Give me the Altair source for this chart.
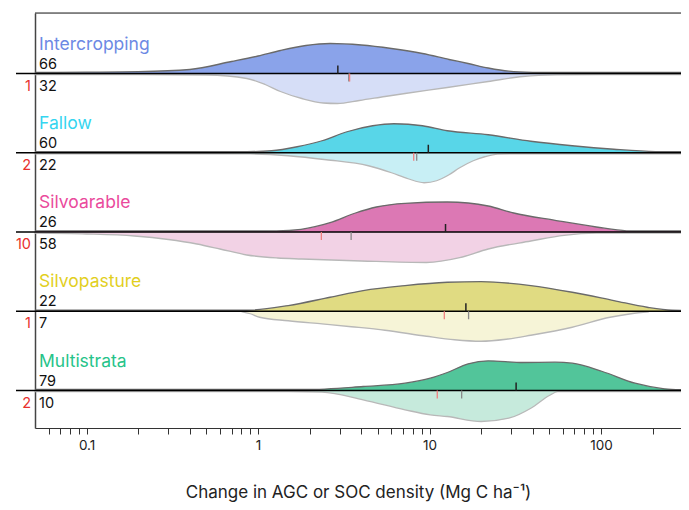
import altair as alt
import pandas as pd

# ---------------- data ----------------
categories = ["Intercropping", "Fallow", "Silvoarable", "Silvopasture", "Multistrata"]
label_colors = ["#6d89e4", "#35d5f0", "#ea4a9c", "#e2cf1e", "#26c389"]
agc_fill = ["#8aa3ea", "#58d6e8", "#dc78b4", "#e0db82", "#52c59a"]
soc_fill = ["#d6def7", "#c8eff5", "#f2d2e5", "#f6f4d7", "#c6eadc"]

n_agc = [66, 60, 26, 22, 79]
n_soc = [32, 22, 58, 7, 10]
n_other = [1, 2, 10, 1, 2]

median_agc = [2.92, 9.84, 12.4, 16.3, 32.0]
median_soc = [3.38, 8.42, 3.49, 16.9, 15.4]
median_soc_alt = [3.42, 8.09, 2.34, 12.2, 11.1]

# density profiles: x positions (Mg C/ha) and relative density (peak ~ 30)
agc_x = [
    [0.05, 0.1, 0.2, 0.4, 0.7, 1.0, 1.35, 1.9, 2.63, 4, 6, 9.1, 13, 16.8, 22, 29, 40, 54, 300],
    [0.05, 0.5, 0.86, 1.2, 1.69, 2.36, 3.3, 4.66, 6.2, 9.1, 12.7, 22, 39, 68, 119, 208, 300],
    [0.05, 1.0, 1.28, 1.78, 2.63, 3.7, 4.9, 7.2, 12.7, 16.8, 22, 31, 54, 94, 141, 166, 300],
    [0.05, 0.86, 1.5, 2.63, 4.1, 7.2, 12.7, 20, 39, 68, 119, 186, 260, 300],
    [0.05, 1.89, 4.1, 7.2, 10.1, 12.7, 16.8, 22, 35, 54, 68, 102, 158, 235, 300],
]
agc_h = [
    [1.0, 1.3, 1.8, 4, 12, 17.5, 23, 28, 30, 28.5, 25, 20, 14, 10, 5.5, 2.3, 1.2, 1.0, 1.0],
    [1.0, 1.0, 1.1, 2, 6, 12, 21, 27, 29, 27, 22, 18, 11.5, 7, 3.5, 1.2, 1.0],
    [1.0, 1.0, 1.1, 2.7, 9.3, 19, 25, 28.7, 30, 29, 26, 19, 11.7, 5, 1.2, 1.0, 1.0],
    [1.0, 1.0, 5.7, 14, 20.7, 25.7, 29, 29.7, 25.7, 19, 10.7, 4, 1.0, 0.8],
    [1.0, 1.0, 4, 7.3, 12.3, 18, 26.7, 29.7, 28, 28.3, 27.3, 19, 7.3, 1.7, 0.8],
]
soc_x = [
    [0.05, 0.2, 0.5, 0.86, 1.1, 1.35, 1.8, 2.4, 2.9, 3.9, 5.5, 7.2, 12.7, 22, 35, 55, 100, 300],
    [0.05, 0.6, 0.9, 1.5, 2.5, 4.4, 6, 7.5, 9.3, 11, 13, 15, 18, 21, 25, 30, 300],
    [0.05, 0.1, 0.19, 0.3, 0.44, 0.6, 0.86, 1.3, 1.8, 4, 9.6, 15, 22, 39, 61, 94, 300],
    [0.8, 0.9, 1.02, 1.5, 2.36, 3.5, 5.5, 9.6, 14, 20, 28, 39, 68, 113, 150, 190],
    [0.05, 1.5, 2.36, 4.1, 7.2, 10.1, 12.7, 20, 29, 39, 50, 56, 300],
]
soc_h = [
    [1.0, 1.0, 1.5, 5, 11, 18, 25, 29.5, 30, 27, 23, 20, 14, 8, 3, 1.3, 1.0, 1.0],
    [1.0, 1.0, 1.2, 3, 7, 13, 20, 26, 30, 28, 22, 15, 8, 4, 1.3, 1.0, 1.0],
    [1.2, 2, 4, 7.5, 12, 17, 23, 26, 27, 29, 30.5, 25.7, 17, 9, 3.3, 1.2, 1.0],
    [0.3, 2.5, 6, 9.5, 12.7, 15.5, 19, 25, 28.5, 30, 28, 24, 16, 6, 2.5, 0.5],
    [1.0, 1.0, 1.7, 9.3, 19.3, 24.3, 26, 31, 27.7, 17.7, 5, 1.2, 1.0],
]

x_ticks = [0.06, 0.07, 0.08, 0.09, 0.1, 0.2, 0.3, 0.4, 0.5, 0.6, 0.7, 0.8, 0.9,
           1, 2, 3, 4, 5, 6, 7, 8, 9, 10, 20, 30, 40, 50, 60, 70, 80, 90, 100, 200]

# ---------------- layout ----------------
W, H = 646, 415
ROW_PX = 79.25          # pixel spacing between rows
TOP_PX = 60.5           # first baseline below top of plot
FONT = "Inter"
TICK = 8 / ROW_PX

rows = []
for i, cat in enumerate(categories):
    for half, xs, hs, fc in (("AGC", agc_x[i], agc_h[i], agc_fill[i]),
                             ("SOC", soc_x[i], soc_h[i], soc_fill[i])):
        sign = -1 if half == "AGC" else 1
        for xv, hv in zip(xs, hs):
            rows.append({"cat": cat, "half": half, "key": f"{cat}|{half}",
                         "x": xv, "y": i + sign * hv / ROW_PX, "base": i,
                         "fillc": fc})
dens = pd.DataFrame(rows)

lab = pd.DataFrame({
    "cat": categories, "base": list(range(len(categories))),
    "lc": label_colors, "na": [str(v) for v in n_agc],
    "ns": [str(v) for v in n_soc], "no": [str(v) for v in n_other],
    "x0": [0.05] * len(categories),
})

med = pd.DataFrame({
    "base": list(range(len(categories))),
    "ma": median_agc, "ms": median_soc, "mr": median_soc_alt,
})
med["up"] = med["base"] - TICK
med["dn"] = med["base"] + TICK

xscale = alt.Scale(type="log", domain=[0.05, 293], nice=False)
yscale = alt.Scale(domain=[-TOP_PX / ROW_PX, (H - TOP_PX) / ROW_PX], reverse=True, nice=False, zero=False)

xaxis = alt.Axis(
    values=x_ticks, title="Change in AGC or SOC density (Mg C ha⁻¹)",
    labelExpr="indexof([0.1, 1, 10, 100], datum.value) >= 0 ? format(datum.value, '~g') : ''",
    grid=False, tickSize=6, tickColor="#333", domainColor="#333", domainWidth=1.2,
    labelFontSize=13.5, labelColor="#222", labelPadding=4, labelFont=FONT,
    titleFont=FONT, titleFontSize=17, titleFontWeight="normal", titleColor="#222",
    titlePadding=33, labelFlush=False,
)
yaxis = alt.Axis(ticks=False, labels=False, title=None, grid=False,
                 domainColor="#444", domainWidth=1.5)

X = alt.X("x:Q", scale=xscale, axis=xaxis)

area = alt.Chart(dens).mark_area(interpolate="monotone", opacity=1, clip=True).encode(
    x=X,
    y=alt.Y("y:Q", scale=yscale, axis=yaxis),
    y2="base:Q",
    fill=alt.Fill("fillc:N", scale=None),
    detail="key:N",
)

line = alt.Chart(dens).mark_line(interpolate="monotone", strokeWidth=1.3, clip=True).encode(
    x="x:Q", y="y:Q", detail="key:N",
    stroke=alt.Stroke("half:N", scale=alt.Scale(domain=["AGC", "SOC"], range=["#6a6a6a", "#b8b8b8"]), legend=None),
)

baselines = alt.Chart(lab).mark_rule(color="#000", strokeWidth=1.6).encode(
    y="base:Q", x=alt.value(-19), x2=alt.value(W),
)
topline = alt.Chart(alt.Data(values=[{"a": 1}])).mark_rule(color="#222", strokeWidth=1).encode(
    y=alt.value(0), x=alt.value(0), x2=alt.value(W),
)

tick_agc = alt.Chart(med).mark_rule(color="#222", strokeWidth=1.5).encode(
    x=alt.X("ma:Q"), y="base:Q", y2="up:Q")
tick_soc = alt.Chart(med).mark_rule(color="#8a8a8a", strokeWidth=1.3).encode(
    x=alt.X("ms:Q"), y="base:Q", y2="dn:Q")
tick_red = alt.Chart(med).mark_rule(color="#f08080", strokeWidth=1.3).encode(
    x=alt.X("mr:Q"), y="base:Q", y2="dn:Q")

names = alt.Chart(lab).mark_text(align="left", baseline="middle", dx=4, dy=-29,
                                 fontSize=17.5, font=FONT).encode(
    x="x0:Q", y="base:Q", text="cat:N", color=alt.Color("lc:N", scale=None))
cnt_a = alt.Chart(lab).mark_text(align="left", baseline="middle", dx=4, dy=-9,
                                 fontSize=14.5, font=FONT, color="#111").encode(
    x="x0:Q", y="base:Q", text="na:N")
cnt_s = alt.Chart(lab).mark_text(align="left", baseline="middle", dx=4, dy=13,
                                 fontSize=14.5, font=FONT, color="#111").encode(
    x="x0:Q", y="base:Q", text="ns:N")
cnt_o = alt.Chart(lab).mark_text(align="right", baseline="middle", dx=-4, dy=13,
                                 fontSize=14.5, font=FONT, color="#e8302c").encode(
    x="x0:Q", y="base:Q", text="no:N")

chart = alt.layer(
    area, line, baselines, topline, tick_soc, tick_red, tick_agc,
    names, cnt_a, cnt_s, cnt_o,
).properties(
    width=W, height=H,
    autosize=alt.AutoSizeParams(type="none"),
    padding={"left": 27, "top": 5, "right": 0, "bottom": 74},
).configure_view(stroke=None).configure(background="white")

chart.save("out.html", embed_options={"renderer": "svg", "actions": False})
